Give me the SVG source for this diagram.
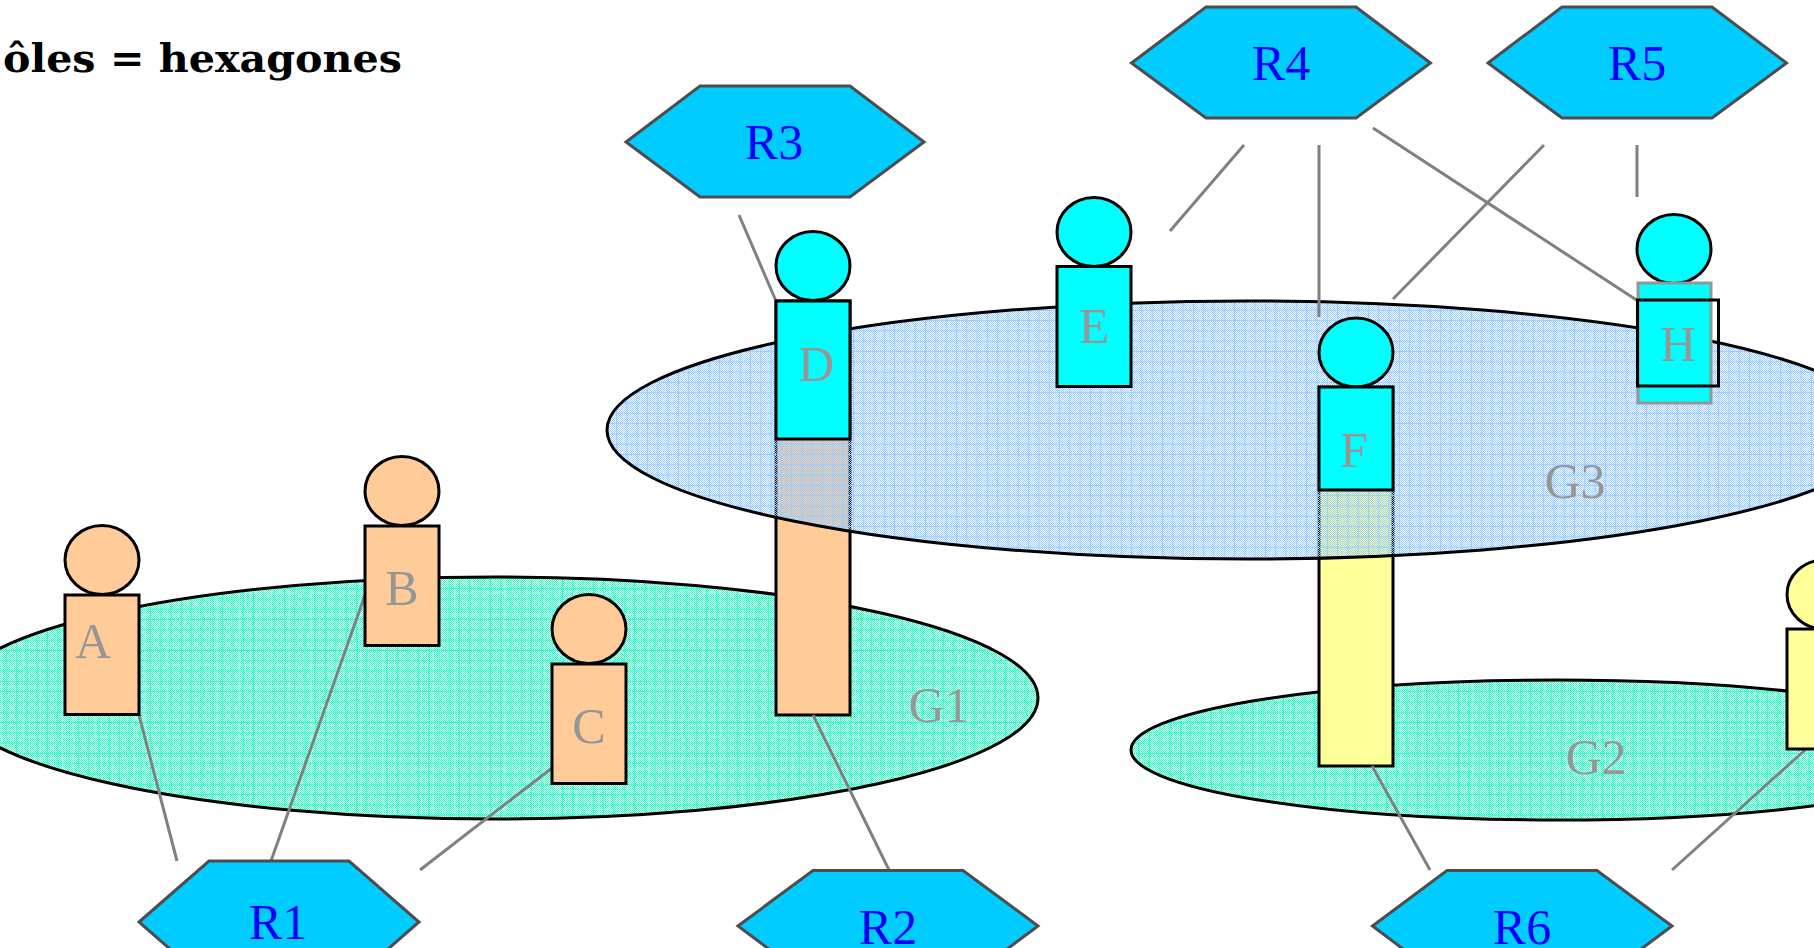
<svg xmlns="http://www.w3.org/2000/svg" width="1814" height="948" viewBox="0 0 1814 948">
<style>
.hex{fill:#00ccff;stroke:#4d4d4d;stroke-width:3}
.hl{font:50px "Liberation Serif",serif;fill:#0000ff;text-anchor:middle}
.gl{font:50px "Liberation Serif",serif;fill:#969696;text-anchor:middle}
.o{stroke:#000;stroke-width:3}
.edge{stroke:#000;stroke-width:3;fill:none}
.c{stroke:#808080;stroke-width:3;fill:none}
.or{fill:#ffcc99}.cy{fill:#00ffff}.ye{fill:#ffff99}
</style>
<defs>
<pattern id="dg" width="2" height="2" patternUnits="userSpaceOnUse"><path d="M0 0h1v1h-1zM1 1h1v1h-1z" fill="#33ffcc"/></pattern>
<pattern id="db" width="2" height="2" patternUnits="userSpaceOnUse"><path d="M0 0h1v1h-1zM1 1h1v1h-1z" fill="#99ccff"/></pattern>
<pattern id="lg" width="10.3" height="10.3" patternUnits="userSpaceOnUse" patternTransform="translate(5.800 1.100)"><path d="M0 .5H10.300M.5 0V10.300" stroke="#33ffcc" stroke-width="1" fill="none"/></pattern>
<pattern id="lb" width="10.3" height="10.3" patternUnits="userSpaceOnUse" patternTransform="translate(8.400 .8)"><path d="M0 .5H10.300M.5 0V10.300" stroke="#99ccff" stroke-width="1" fill="none"/></pattern>
</defs>
<rect width="1814" height="948" fill="#fff"/>
<text x="3" y="72" font-family="DejaVu Serif,serif" font-weight="bold" font-size="40" textLength="399" lengthAdjust="spacingAndGlyphs">ôles = hexagones</text>
<g id="G1"><ellipse cx="495" cy="698" rx="543" ry="121" fill="url(#dg)"/><ellipse cx="495" cy="698" rx="543" ry="121" fill="url(#lg)"/><ellipse class="edge" cx="495" cy="698" rx="543" ry="121"/><text class="gl" x="939" y="722">G1</text></g>
<g id="G2"><ellipse cx="1556" cy="750" rx="425" ry="70" fill="url(#dg)"/><ellipse cx="1556" cy="750" rx="425" ry="70" fill="url(#lg)"/><ellipse class="edge" cx="1556" cy="750" rx="425" ry="70"/><text class="gl" x="1596" y="774">G2</text></g>
<g id="D-body"><rect class="o or" x="776" y="301" width="74" height="414"/></g>
<g id="F-body"><rect class="o ye" x="1319" y="387" width="74" height="379"/></g>
<g id="G3"><ellipse cx="1247" cy="430" rx="640" ry="129" fill="url(#db)"/><ellipse cx="1247" cy="430" rx="640" ry="129" fill="url(#lb)"/><ellipse class="edge" cx="1247" cy="430" rx="640" ry="129"/><text class="gl" x="1575" y="498">G3</text></g>
<g id="connectors">
<path class="c" d="M139 715L177 861M365 595L271 861M552 768L420 870M813 715L889 870M739 215L776 301M1244 145L1170 231M1319 145V317M1373 128L1638 301M1544 145L1393 299M1637 145V197M1372 766L1430 870M1805 750L1672 870"/>
</g>
<g id="A"><ellipse class="o or" cx="102" cy="560" rx="37" ry="34.500"/><rect class="o or" x="65" y="595" width="74" height="119.500"/><text class="gl" x="93" y="658">A</text></g>
<g id="B"><ellipse class="o or" cx="402" cy="491" rx="37" ry="34.500"/><rect class="o or" x="365" y="526" width="74" height="119.500"/><text class="gl" x="402" y="605">B</text></g>
<g id="C"><ellipse class="o or" cx="589" cy="629" rx="37" ry="34.500"/><rect class="o or" x="552" y="664" width="74" height="119.500"/><text class="gl" x="589" y="743">C</text></g>
<g id="D"><ellipse class="o cy" cx="813" cy="266" rx="37" ry="34.500"/><rect class="o cy" x="776" y="301" width="74" height="138"/><text class="gl" x="816" y="381">D</text></g>
<g id="E"><ellipse class="o cy" cx="1094" cy="232" rx="37" ry="34.500"/><rect class="o cy" x="1057" y="266.500" width="74" height="120"/><text class="gl" x="1094" y="343">E</text></g>
<g id="F"><ellipse class="o cy" cx="1356" cy="352.500" rx="37" ry="34.500"/><rect class="o cy" x="1319" y="387" width="74" height="103"/><text class="gl" x="1354" y="467">F</text></g>
<g id="H"><ellipse class="o cy" cx="1674" cy="249" rx="37" ry="34.500"/><rect x="1638" y="283" width="73" height="120" fill="#00ffff" stroke="#969696" stroke-width="3"/><rect x="1637.500" y="300" width="81" height="86" fill="none" stroke="#000" stroke-width="3"/><text class="gl" x="1678" y="361">H</text></g>
<g id="J"><ellipse class="o ye" cx="1824" cy="594.500" rx="37" ry="34.500"/><rect class="o ye" x="1787" y="629" width="74" height="120"/><text class="gl" x="1824" y="709">J</text></g>
<g id="R1"><polygon class="hex" points="139,922 209,861 349,861 419,922 349,983 209,983"/><text class="hl" x="278" y="939">R1</text></g>
<g id="R2"><polygon class="hex" points="738,926 813,870.500 963,870.500 1038,926 963,982 813,982"/><text class="hl" x="888" y="944">R2</text></g>
<g id="R3"><polygon class="hex" points="626,142 700,86 850,86 924,142 850,197 700,197"/><text class="hl" x="774" y="159">R3</text></g>
<g id="R4"><polygon class="hex" points="1131.500,63 1206,7 1356,7 1430.500,63 1356,118 1206,118"/><text class="hl" x="1281" y="80">R4</text></g>
<g id="R5"><polygon class="hex" points="1488,63 1562,7 1712,7 1786.500,63 1712,118 1562,118"/><text class="hl" x="1637" y="80">R5</text></g>
<g id="R6"><polygon class="hex" points="1372.500,926 1447,870.500 1597,870.500 1672,926 1597,982 1447,982"/><text class="hl" x="1522" y="944">R6</text></g>
</svg>
